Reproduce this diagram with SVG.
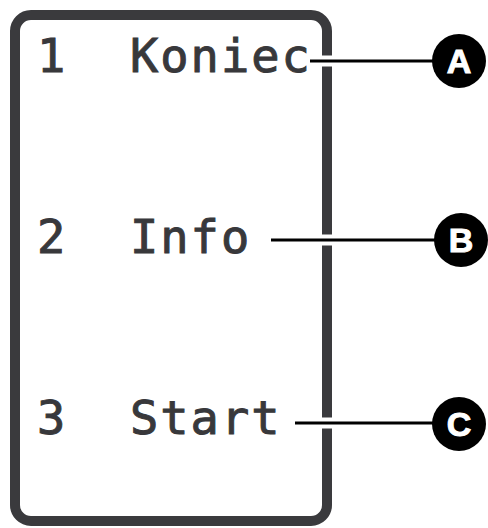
<svg xmlns="http://www.w3.org/2000/svg" width="488" height="528" viewBox="0 0 488 528">
<style>
.lbl{font-family:"DejaVu Sans Mono","Liberation Mono",monospace;font-size:47px;fill:#38383b;stroke:#38383b;stroke-width:1;letter-spacing:2px}
.halo{stroke:#fff;stroke-width:11;fill:none}
.ln{stroke:#000;stroke-width:3;fill:none}
.dot{fill:#000}
.let{font-family:"Liberation Sans",Arial,sans-serif;font-weight:bold;font-size:34px;fill:#fff;text-anchor:middle;stroke:#fff;stroke-width:1}
</style>
<rect width="488" height="528" fill="#fff"/>
<g id="frame"><rect x="15" y="15" width="312" height="506" rx="16" fill="none" stroke="#3a3a3d" stroke-width="10"/></g>
<g id="item1"><text class="lbl" x="37" y="72">1</text><text class="lbl" x="130" y="72">Koniec</text></g>
<g id="item2"><text class="lbl" x="37" y="253">2</text><text class="lbl" x="130" y="253">Info</text></g>
<g id="item3"><text class="lbl" x="37" y="434">3</text><text class="lbl" x="130" y="434">Start</text></g>
<g id="connectors">
<line class="halo" x1="312" y1="61" x2="434" y2="61"/>
<line class="ln" x1="310" y1="61" x2="434" y2="61"/>
<line class="halo" x1="273" y1="240" x2="436" y2="240"/>
<line class="ln" x1="271" y1="240" x2="436" y2="240"/>
<line class="halo" x1="297" y1="423" x2="434" y2="423"/>
<line class="ln" x1="295" y1="423" x2="434" y2="423"/>
</g>
<g id="A"><circle class="dot" cx="459" cy="61" r="27"/><text class="let" x="459" y="73">A</text></g>
<g id="B"><circle class="dot" cx="461" cy="240" r="27"/><text class="let" x="461" y="252">B</text></g>
<g id="C"><circle class="dot" cx="459" cy="424" r="27"/><text class="let" x="459" y="436">C</text></g>
</svg>
